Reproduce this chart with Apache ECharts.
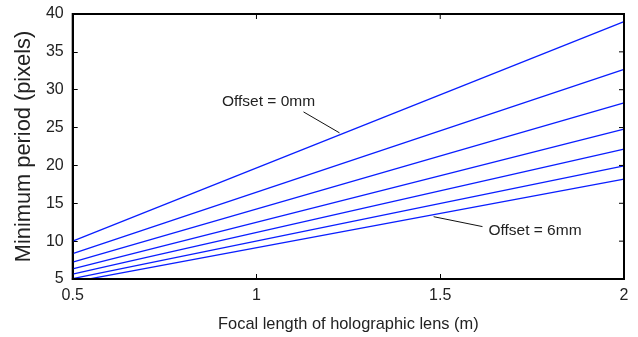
<!DOCTYPE html>
<html><head><meta charset="utf-8">
<script src="https://cdn.jsdelivr.net/npm/echarts@6/dist/echarts.min.js"></script>
<style>html,body{margin:0;padding:0;background:#fff}#c{width:638px;height:337px}</style>
</head><body><div id="c"></div>
<script>
const focalX = [0.5, 2];
const line1 = [10.0, 39.0];
const line2 = [8.35, 32.7];
const line3 = [7.22, 28.25];
const line4 = [6.35, 24.8];
const line5 = [5.65, 22.15];
const line6 = [5.04, 19.93];
const line7 = [4.6, 18.2];
const xTicks = [0.5, 1, 1.5, 2];
const yTicks = [5, 10, 15, 20, 25, 30, 35, 40];
const annot0 = {text: 'Offset = 0mm', label: [0.906, 28.4], from: [1.128, 27.07], to: [1.226, 24.3]};
const annot6 = {text: 'Offset = 6mm', label: [1.631, 11.4], from: [1.482, 13.23], to: [1.615, 11.92]};

const allLines = [line1, line2, line3, line4, line5, line6, line7];
const font = 'Liberation Sans, Arial, sans-serif';
const chart = echarts.init(document.getElementById('c'), null, {renderer: 'canvas'});

const series = allLines.map(v => ({
  type: 'line', data: focalX.map((x, i) => [x, v[i]]), symbol: 'none',
  lineStyle: {color: '#0a1eff', width: 1.3}, clip: true, animation: false
}));
[annot0, annot6].forEach(a => {
  series.push({type: 'line', data: [a.from, a.to], symbol: 'none', clip: false,
    lineStyle: {color: '#111', width: 1}, animation: false, silent: true});
});

chart.setOption({
  animation: false,
  grid: {left: 72.7, right: 14, top: 14, bottom: 54.5},
  xAxis: {
    type: 'value', min: 0.5, max: 2, interval: 0.5,
    name: 'Focal length of holographic lens (m)', nameLocation: 'middle', nameGap: 37,
    nameTextStyle: {fontFamily: font, fontSize: 16.4, color: '#222'},
    axisLine: {show: true, lineStyle: {color: '#000', width: 2}},
    axisTick: {inside: true, length: 5, lineStyle: {color: '#000'}},
    axisLabel: {fontFamily: font, fontSize: 16, color: '#222', margin: 9},
    splitLine: {show: false}
  },
  yAxis: {
    type: 'value', min: 5, max: 40, interval: 5,
    name: 'Minimum period (pixels)', nameLocation: 'middle', nameGap: 36,
    nameTextStyle: {fontFamily: font, fontSize: 21.8, color: '#222'},
    axisLine: {show: true, lineStyle: {color: '#000', width: 2}},
    axisTick: {inside: true, length: 5, lineStyle: {color: '#000'}},
    axisLabel: {fontFamily: font, fontSize: 16, color: '#222', margin: 9},
    splitLine: {show: false}
  },
  series: series
});

const p00 = chart.convertToPixel({gridIndex: 0}, [0.5, 5]);
const p11 = chart.convertToPixel({gridIndex: 0}, [2, 40]);
const g = [];
g.push({type: 'rect', shape: {x: p00[0], y: p11[1], width: p11[0] - p00[0], height: p00[1] - p11[1]},
  style: {fill: 'none', stroke: '#000', lineWidth: 2}, z: 10});
yTicks.forEach(t => {
  const p = chart.convertToPixel({gridIndex: 0}, [2, t]);
  g.push({type: 'line', shape: {x1: p[0], y1: p[1], x2: p[0] - 5, y2: p[1]}, style: {stroke: '#000', lineWidth: 1}, z: 10});
});
xTicks.forEach(t => {
  const p = chart.convertToPixel({gridIndex: 0}, [t, 40]);
  g.push({type: 'line', shape: {x1: p[0], y1: p[1], x2: p[0], y2: p[1] + 5}, style: {stroke: '#000', lineWidth: 1}, z: 10});
});
[annot0, annot6].forEach(a => {
  const p = chart.convertToPixel({gridIndex: 0}, a.label);
  g.push({type: 'text', x: p[0], y: p[1], style: {text: a.text, font: '15.5px ' + font, fill: '#222', verticalAlign: 'middle', align: 'left'}, z: 10});
});
chart.setOption({graphic: g});
</script></body></html>
